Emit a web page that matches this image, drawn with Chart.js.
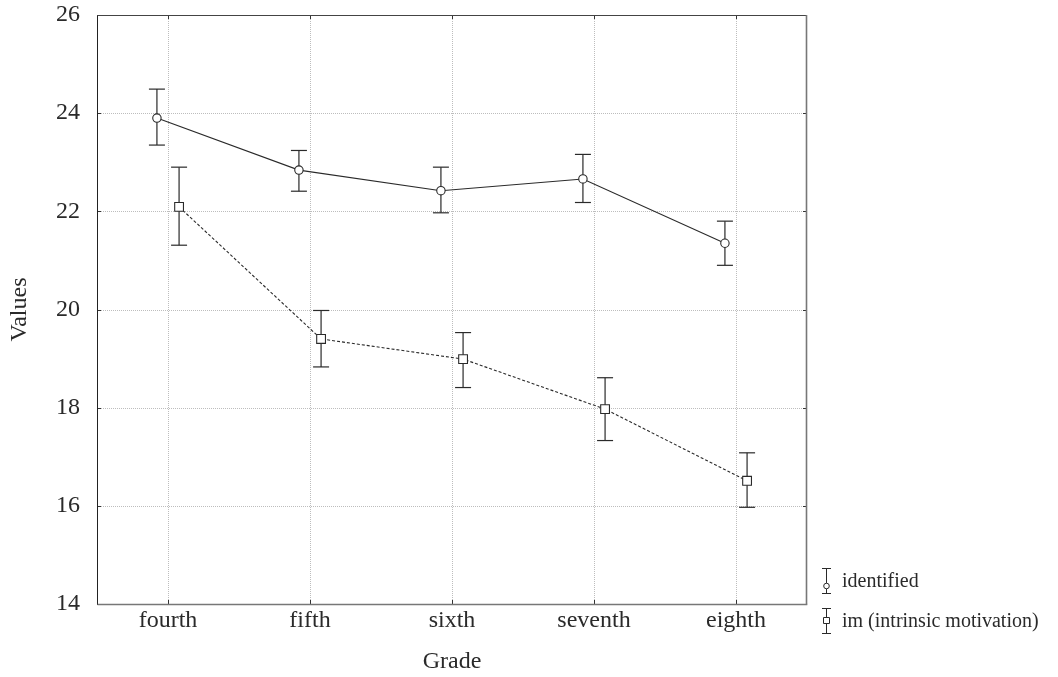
<!DOCTYPE html>
<html><head><meta charset="utf-8">
<script src="https://cdn.jsdelivr.net/npm/chart.js@4"></script>
<style>html,body{margin:0;padding:0;background:#fff}#wrap{width:1058px;height:677px;position:relative}</style>
</head><body><div id="wrap"><canvas id="c"></canvas></div>
<script>
// ---- data ----
const grades = ['fourth', 'fifth', 'sixth', 'seventh', 'eighth'];
const identifiedMean  = [23.90, 22.84, 22.42, 22.66, 21.35];
const identifiedUpper = [24.49, 23.24, 22.90, 23.16, 21.80];
const identifiedLower = [23.35, 22.41, 21.97, 22.18, 20.90];
const imMean  = [22.09, 19.40, 18.99, 17.97, 16.51];
const imUpper = [22.90, 19.98, 19.53, 18.61, 17.08];
const imLower = [21.31, 18.83, 18.41, 17.33, 15.97];
const yTicks = [14, 16, 18, 20, 22, 24, 26];
const seriesLabels = ['identified', 'im (intrinsic motivation)'];

// ---- style ----
const SERIES_SHIFT = 0.078;
const INK = '#2a2a2a';
const FONT = 'Liberation Serif';

Chart.defaults.font.family = FONT;
Chart.defaults.color = INK;

const errorData = [
  {upper: identifiedUpper, lower: identifiedLower},
  {upper: imUpper, lower: imLower}
];

function seg(ctx, x1, y1, x2, y2) { ctx.beginPath(); ctx.moveTo(x1, y1); ctx.lineTo(x2, y2); ctx.stroke(); }

const decor = {
  id: 'decor',
  beforeDatasetsDraw(chart) {
    const {ctx, chartArea: a, scales: {x, y}} = chart;
    ctx.save();
    // grid
    ctx.strokeStyle = '#bdbdbd'; ctx.lineWidth = 1; ctx.setLineDash([1, 1]);
    x.ticks.forEach(t => { const px = Math.round(x.getPixelForValue(t.value)) + 0.5; seg(ctx, px, a.top, px, a.bottom); });
    y.ticks.forEach(t => { const py = Math.round(y.getPixelForValue(t.value)) + 0.5; seg(ctx, a.left, py, a.right, py); });
    ctx.setLineDash([]);
    // error bars
    ctx.strokeStyle = INK; ctx.lineWidth = 1.2;
    chart.data.datasets.forEach((ds, di) => {
      const meta = chart.getDatasetMeta(di);
      meta.data.forEach((pt, i) => {
        const px = pt.x;
        const yt = y.getPixelForValue(errorData[di].upper[i]);
        const yb = y.getPixelForValue(errorData[di].lower[i]);
        seg(ctx, px, yt, px, yb);
        seg(ctx, px - 8, yt, px + 8, yt);
        seg(ctx, px - 8, yb, px + 8, yb);
      });
    });
    ctx.restore();
  },
  afterDatasetsDraw(chart) {
    const {ctx, chartArea: a, scales: {x, y}} = chart;
    ctx.save();
    ctx.lineWidth = 1;
    ctx.strokeStyle = '#333';
    // inner tick marks
    x.ticks.forEach(t => {
      const px = Math.round(x.getPixelForValue(t.value)) + 0.5;
      seg(ctx, px, a.bottom, px, a.bottom - 4);
      seg(ctx, px, a.top, px, a.top + 4);
    });
    y.ticks.forEach(t => {
      const py = Math.round(y.getPixelForValue(t.value)) + 0.5;
      seg(ctx, a.left, py, a.left + 4, py);
      seg(ctx, a.right, py, a.right - 4, py);
    });
    // frame
    const L = Math.round(a.left) + 0.5, R = Math.round(a.right) - 0.5, T = Math.round(a.top) + 0.5, B = Math.round(a.bottom) + 0.5;
    ctx.strokeStyle = '#222'; seg(ctx, L, T, L, B + 0.5);
    ctx.strokeStyle = '#444'; seg(ctx, L, T, R, T);
    ctx.strokeStyle = '#777'; ctx.lineWidth = 1.6;
    seg(ctx, R, T - 0.5, R, B); seg(ctx, L, B, R + 0.8, B);
    ctx.restore();
  },
  afterDraw(chart) {
    const {ctx, chartArea: a} = chart;
    ctx.save();
    chart.data.datasets.forEach((ds, i) => {
      const base = a.bottom - 17 + i * 40;
      const ix = a.right + 19;
      const top = base - 19, bot = base + 6;
      ctx.strokeStyle = INK; ctx.lineWidth = 1;
      seg(ctx, ix + 0.5, top, ix + 0.5, bot);
      seg(ctx, ix - 4, top + 0.5, ix + 5, top + 0.5);
      seg(ctx, ix - 4, bot + 0.5, ix + 5, bot + 0.5);
      const my = i === 0 ? base - 1 : (top + bot) / 2;
      ctx.fillStyle = '#fff';
      ctx.beginPath();
      if (ds.pointStyle === 'circle') ctx.arc(ix + 0.5, my, 2.8, 0, Math.PI * 2);
      else ctx.rect(ix - 2.5, my - 3, 6, 6);
      ctx.fill(); ctx.stroke();
      ctx.fillStyle = INK;
      ctx.font = '20px "' + FONT + '"';
      ctx.textBaseline = 'alphabetic'; ctx.textAlign = 'left';
      ctx.fillText(ds.label, a.right + 35, base);
    });
    ctx.restore();
  }
};

new Chart(document.getElementById('c'), {
  type: 'line',
  data: {
    datasets: [
      {
        label: seriesLabels[0],
        data: identifiedMean.map((v, i) => ({x: i - SERIES_SHIFT, y: v})),
        borderColor: INK, borderWidth: 1.1,
        pointStyle: 'circle', pointRadius: 4.2,
        pointBackgroundColor: '#fff', pointBorderColor: INK, pointBorderWidth: 1.1,
        tension: 0
      },
      {
        label: seriesLabels[1],
        data: imMean.map((v, i) => ({x: i + SERIES_SHIFT, y: v})),
        borderColor: INK, borderWidth: 1.1, borderDash: [3, 2],
        pointStyle: 'rect', pointRadius: 6.2,
        pointBackgroundColor: '#fff', pointBorderColor: INK, pointBorderWidth: 1.1,
        tension: 0
      }
    ]
  },
  options: {
    responsive: true, maintainAspectRatio: false, animation: false,
    layout: {padding: {left: 0, top: 15, right: 251, bottom: 0}},
    plugins: {legend: {display: false}, tooltip: {enabled: false}},
    scales: {
      x: {
        type: 'linear', min: -0.5, max: 4.5,
        afterBuildTicks: s => { s.ticks = grades.map((g, i) => ({value: i})); },
        afterFit: s => { s.height = 73; s.paddingLeft = 0; s.paddingRight = 0; },
        grid: {display: false, drawTicks: false},
        border: {display: false},
        ticks: {
          autoSkip: false, maxRotation: 0, padding: 2,
          font: {size: 24}, color: INK,
          callback: v => grades[v]
        },
        title: {display: true, text: 'Grade', font: {size: 24}, color: INK, padding: {top: 0, bottom: 1}}
      },
      y: {
        type: 'linear', min: 14, max: 26,
        afterBuildTicks: s => { s.ticks = yTicks.map(v => ({value: v})); },
        afterFit: s => { s.width = 97; s.paddingTop = 0; s.paddingBottom = 0; },
        grid: {display: false, drawTicks: false},
        border: {display: false},
        ticks: {padding: 17, font: {size: 24}, color: INK},
        title: {display: true, text: 'Values', font: {size: 24}, color: INK, padding: {top: 5, bottom: 0}}
      }
    }
  },
  plugins: [decor]
});
</script>
</body></html>
